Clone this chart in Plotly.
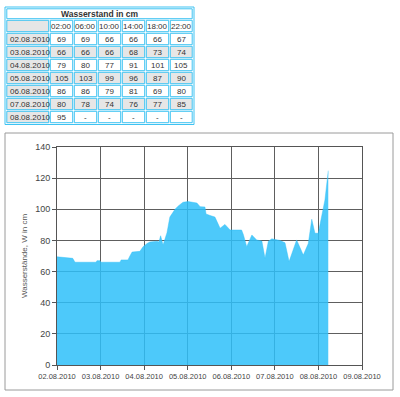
import plotly.graph_objects as go

# ---- table data ----
table_title = "Wasserstand in cm"
table_hours = ["02:00", "06:00", "10:00", "14:00", "18:00", "22:00"]
table_dates = ["02.08.2010", "03.08.2010", "04.08.2010", "05.08.2010",
               "06.08.2010", "07.08.2010", "08.08.2010"]
table_values = [
    ["69", "69", "66", "66", "66", "67"],
    ["66", "66", "66", "68", "73", "74"],
    ["79", "80", "77", "91", "101", "105"],
    ["105", "103", "99", "96", "87", "90"],
    ["86", "86", "79", "81", "69", "80"],
    ["80", "78", "74", "76", "77", "85"],
    ["95", "-", "-", "-", "-", "-"],
]

# ---- chart data ----
times = [
    "2010-08-02 00:00", "2010-08-02 07:30", "2010-08-02 08:40", "2010-08-02 09:55",
    "2010-08-02 21:30", "2010-08-02 22:00", "2010-08-02 23:40", "2010-08-03 00:10",
    "2010-08-03 10:40", "2010-08-03 11:20", "2010-08-03 15:05", "2010-08-03 16:10",
    "2010-08-03 17:20", "2010-08-03 21:40", "2010-08-03 23:25", "2010-08-04 01:35",
    "2010-08-04 03:10", "2010-08-04 07:05", "2010-08-04 08:10", "2010-08-04 09:05",
    "2010-08-04 09:50", "2010-08-04 10:25", "2010-08-04 12:35", "2010-08-04 14:10",
    "2010-08-04 17:00", "2010-08-04 18:40", "2010-08-04 21:25", "2010-08-05 00:10",
    "2010-08-05 05:05", "2010-08-05 06:50", "2010-08-05 09:30", "2010-08-05 10:05",
    "2010-08-05 12:20", "2010-08-05 15:00", "2010-08-05 17:50", "2010-08-05 20:30",
    "2010-08-05 23:20", "2010-08-06 05:40", "2010-08-06 06:35", "2010-08-06 08:30",
    "2010-08-06 11:20", "2010-08-06 14:00", "2010-08-06 16:50", "2010-08-06 18:35",
    "2010-08-06 20:25", "2010-08-06 22:20", "2010-08-07 02:50", "2010-08-07 05:35",
    "2010-08-07 07:50", "2010-08-07 12:00", "2010-08-07 15:40", "2010-08-07 18:25",
    "2010-08-07 20:20", "2010-08-07 22:05", "2010-08-07 23:55", "2010-08-08 01:50",
    "2010-08-08 03:35", "2010-08-08 05:25",
]
levels = [
    69.5, 69, 68.5, 66,
    66, 67, 67, 66,
    66, 67.5, 67.5, 70,
    72.5, 73, 76, 78,
    79, 79.5, 79, 83,
    80, 77, 85, 95,
    100, 102, 104.5, 105,
    104, 101.7, 101.5, 97,
    96, 95, 87.8, 90.3,
    86.7, 86.7, 84, 76,
    83.5, 80.3, 79.6, 68.5,
    79.5, 81, 80, 78.5,
    66.4, 80.3, 70.6, 78,
    93.6, 84.6, 84.6, 96.3,
    106, 124.8,
]

W, H = 400, 397
FONT = "Liberation Sans, Arial, sans-serif"


def px(x):
    return x / W


def py(y):
    return (H - y) / H


fig = go.Figure()

# area chart
fig.add_trace(go.Scatter(
    x=times, y=levels, mode="lines",
    line=dict(color="rgba(46,191,249,0.85)", width=0.5),
    fill="tozeroy", fillcolor="rgba(46,191,249,0.85)",
    hoverinfo="skip", showlegend=False,
))

# ---- table built from shapes + annotations ----
shapes = []
annotations = []
border = "#3fc3f2"
grey = "#e6e6e6"
txt = "#333333"
tbl_left, tbl_right, tbl_top = 6, 193, 8
title_h, row_h = 11.5, 13
col_edges = [tbl_left, 49.5] + [49.5 + 24 * (k + 1) for k in range(6)]
col_edges[-1] = tbl_right
ins = 0.8


def cell(x0, x1, y0, y1, fill):
    shapes.append(dict(type="rect", xref="paper", yref="paper",
                       x0=px(x0 + ins), x1=px(x1 - ins), y0=py(y1 - ins), y1=py(y0 + ins),
                       line=dict(color=border, width=1), fillcolor=fill, layer="above"))


def label(text, x, y, anchor="center", bold=False, size=8):
    annotations.append(dict(text=("<b>%s</b>" % text) if bold else text,
                            xref="paper", yref="paper", x=px(x), y=py(y),
                            showarrow=False, xanchor=anchor, yanchor="middle",
                            font=dict(family=FONT, size=size, color=txt)))


# outer table border
shapes.append(dict(type="rect", xref="paper", yref="paper",
                   x0=px(tbl_left - 1), x1=px(tbl_right + 1),
                   y0=py(tbl_top + title_h + row_h * (len(table_dates) + 1) + 1), y1=py(tbl_top - 1),
                   line=dict(color=border, width=1), fillcolor="white", layer="above"))
# title row
cell(tbl_left, tbl_right, tbl_top, tbl_top + title_h, "white")
label(table_title, (tbl_left + tbl_right) / 2, tbl_top + title_h / 2 + 0.5, bold=True, size=8.5)
# header row
hy0 = tbl_top + title_h
cell(col_edges[0], col_edges[1], hy0, hy0 + row_h, grey)
for j, hname in enumerate(table_hours):
    cell(col_edges[j + 1], col_edges[j + 2], hy0, hy0 + row_h, "white")
    label(hname, (col_edges[j + 1] + col_edges[j + 2]) / 2, hy0 + row_h / 2 + 0.5)
# data rows
for i, d in enumerate(table_dates):
    y0 = hy0 + row_h * (i + 1)
    rowfill = grey if i % 2 == 1 else "white"
    cell(col_edges[0], col_edges[1], y0, y0 + row_h, grey)
    label(d, col_edges[0] + 1.5, y0 + row_h / 2 + 0.5, anchor="left")
    for j, v in enumerate(table_values[i]):
        cell(col_edges[j + 1], col_edges[j + 2], y0, y0 + row_h, rowfill)
        label(v, (col_edges[j + 1] + col_edges[j + 2]) / 2, y0 + row_h / 2 + 0.5)

# outer chart box
shapes.append(dict(type="rect", xref="paper", yref="paper",
                   x0=px(5), x1=px(393), y0=py(390), y1=py(133),
                   line=dict(color="#9a9a9a", width=1), fillcolor="rgba(0,0,0,0)", layer="below"))

fig.update_layout(
    width=W, height=H,
    margin=dict(l=0, r=0, t=0, b=0, autoexpand=False),
    paper_bgcolor="white", plot_bgcolor="white",
    showlegend=False,
    xaxis=dict(
        domain=[px(57), px(362)],
        automargin=False,
        type="date",
        range=["2010-08-02 00:00", "2010-08-09 00:00"],
        dtick=86400000, tick0="2010-08-02",
        tickformat="%d.%m.%Y", tickangle=0,
        showgrid=True, gridcolor="#5e5e5e", gridwidth=1,
        showline=True, linecolor="#555555", linewidth=1, mirror=True,
        ticks="outside", ticklen=4, tickcolor="#555555",
        tickfont=dict(family=FONT, size=7.5, color="#444444"),
        zeroline=False,
    ),
    yaxis=dict(
        domain=[py(365), py(147)],
        automargin=False,
        range=[0, 140], dtick=20,
        showgrid=True, gridcolor="#5e5e5e", gridwidth=1,
        showline=True, linecolor="#555555", linewidth=1, mirror=True,
        ticks="outside", ticklen=4, tickcolor="#555555",
        tickfont=dict(family=FONT, size=9, color="#444444"),
        zeroline=False,
        title=dict(text="Wasserstände, W in cm",
                   font=dict(family=FONT, size=8, color="#555555"),
                   standoff=6),
    ),
    shapes=shapes,
    annotations=annotations,
)

fig.write_html("out.html",
               config={"displayModeBar": False},
               post_script="document.body.style.margin='0';document.body.style.overflow='hidden';")
